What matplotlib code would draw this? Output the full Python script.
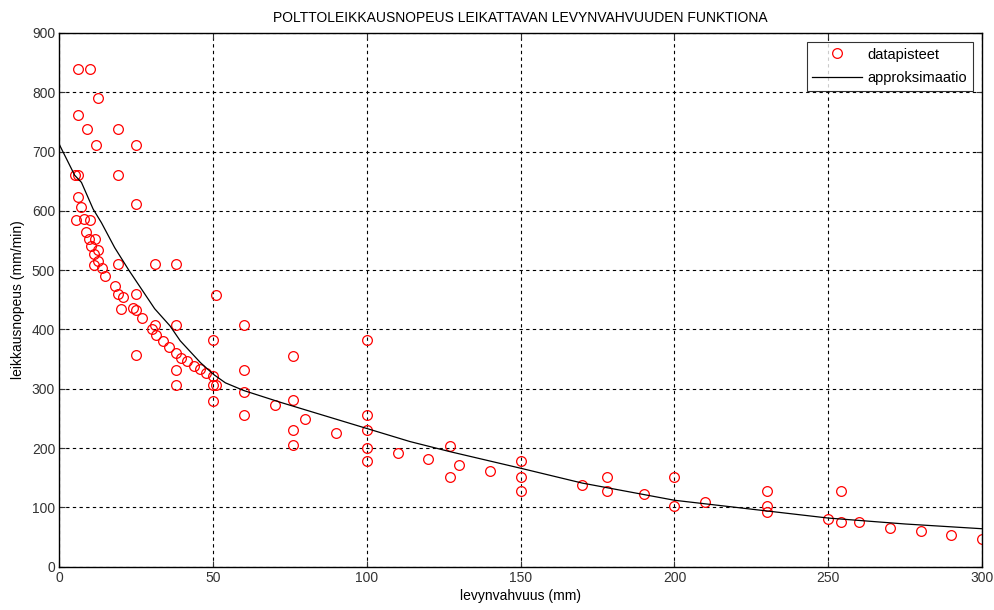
import matplotlib.pyplot as plt

# measured points (levynvahvuus mm, leikkausnopeus mm/min)
thickness = [6, 10, 12.7, 6, 9, 19, 12, 25, 5, 6, 19, 6, 7, 25, 5.5, 8, 10,
             8.6, 11.6, 9.5, 10.4, 12.7, 11.4, 12.7, 11.3, 14, 19, 31, 38,
             14.7, 18, 19, 20.7, 25, 51, 20, 23.8, 25, 26.8, 30, 31, 38,
             31.5, 33.6, 35.8, 38, 25, 50, 39.7, 41.5, 43.7, 45.9, 47.8, 38,
             50, 50, 51, 38, 50, 60, 100, 76, 60, 60, 70, 76, 60, 80, 100,
             76, 90, 100, 76, 100, 110, 100, 120, 127, 130, 127, 140, 150,
             150, 150, 170, 178, 178, 190, 200, 200, 210, 230, 230, 230,
             250, 254, 254, 260, 270, 280, 290, 300]
speed = [840, 840, 790, 762, 738, 738, 711, 711, 660, 660, 660, 624, 606, 612,
         585, 586, 585, 565, 553, 552, 541, 534, 528, 516, 509, 504, 510, 510,
         510, 490, 473, 460, 454, 459, 458, 434, 437, 433, 420, 401, 408, 407,
         390, 380, 371, 361, 357, 382, 352, 346, 339, 333, 326, 331, 321, 307,
         307, 307, 280, 407, 382, 356, 331, 295, 272, 281, 255, 249, 255, 230,
         226, 230, 205, 200, 191, 179, 181, 204, 171, 152, 162, 178, 151, 128,
         137, 152, 127, 123, 152, 103, 109, 127, 103, 93, 81, 127, 76, 75, 66,
         61, 53, 46]

# approximation curve
fit_x = [0, 5, 7.2, 11, 13.7, 18, 22.6, 31, 36, 39.3, 45.9, 50.2, 54, 60, 72,
         100, 114, 127, 150, 170, 200, 210, 230, 250, 275, 300]
fit_y = [712, 660, 648, 603, 580, 538, 500, 435, 406, 381, 344, 324, 310, 297,
         277, 233, 211, 194, 166, 141, 112, 106, 94, 82, 72, 64]

plt.rcParams['font.family'] = ['Liberation Sans', 'DejaVu Sans']
plt.rcParams['font.size'] = 10

fig = plt.figure(figsize=(9.95, 6.1), dpi=100)
ax = fig.add_axes([0.0596, 0.071, 0.9274, 0.875])

ax.plot(thickness, speed, 'o', mfc='none', mec='red', ms=7, mew=0.9,
        label='datapisteet')
ax.plot(fit_x, fit_y, '-', color='black', lw=0.9, label='approksimaatio')

ax.set_xlim(0, 300)
ax.set_ylim(0, 900)
ax.set_xticks(range(0, 301, 50))
ax.set_yticks(range(0, 901, 100))
ax.grid(True, color='black', linestyle=(0, (3, 3)), linewidth=0.8)
ax.tick_params(direction='in', top=True, right=True, length=4, pad=3,
               colors='#333333', labelsize=10)
for s in ax.spines.values():
    s.set_linewidth(1.0)

ax.set_title('POLTTOLEIKKAUSNOPEUS LEIKATTAVAN LEVYNVAHVUUDEN FUNKTIONA',
             fontsize=10, pad=8)
ax.set_xlabel('levynvahvuus (mm)', fontsize=10, labelpad=3)
ax.set_ylabel('leikkausnopeus (mm/min)', fontsize=10, labelpad=5)

leg = ax.legend(loc='upper right', fancybox=False, edgecolor='black',
                fontsize=10.5, borderaxespad=0.6, handlelength=3.4,
                handletextpad=0.4, labelspacing=0.65, borderpad=0.4)
leg.get_frame().set_linewidth(0.8)

fig.savefig('out.png', dpi=100)
